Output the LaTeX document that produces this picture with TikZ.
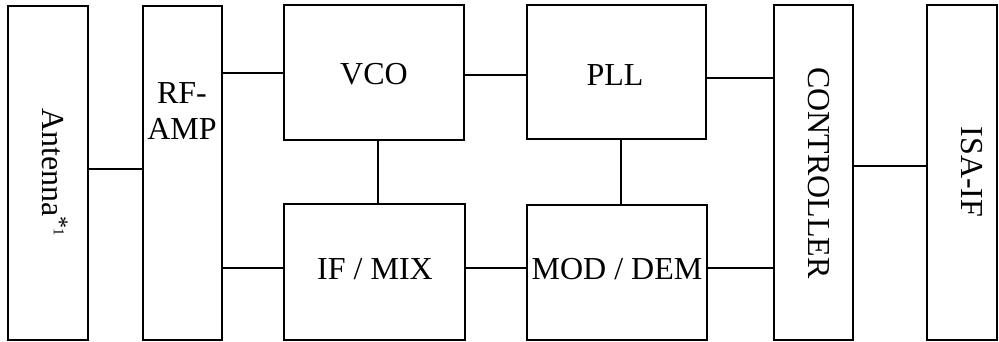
\documentclass[tikz,border=0pt]{standalone}
\usepackage{fontspec}
\setmainfont{Liberation Serif}
\begin{document}
\begin{tikzpicture}[x=1pt,y=-1pt,
  blk/.style={draw,line width=1.3pt,fill=white},
  lbl/.style={font=\fontsize{32}{36}\selectfont,inner sep=0pt},
  conn/.style={line width=1.3pt}]
\useasboundingbox (0,0) rectangle (999,342);
% boxes
\draw[blk] (8,6) rectangle (88,340);
\draw[blk] (143,6) rectangle (222,340);
\draw[blk] (284,5) rectangle (464,140);
\draw[blk] (284,204) rectangle (465,340);
\draw[blk] (527,5) rectangle (706,139);
\draw[blk] (527,205) rectangle (707,340);
\draw[blk] (774,5) rectangle (853,340);
\draw[blk] (927,5) rectangle (997,340);
% labels
\node[lbl,rotate=-90] (antenna) at (55,172) {Antenna\raisebox{9pt}{\fontsize{24}{24}\selectfont *}\raisebox{11pt}{\fontsize{15}{15}\selectfont 1}};
\node[lbl,align=center] (rfamp) at (182,111) {RF-\\AMP};
\node[lbl] (vco) at (374,74) {VCO};
\node[lbl] (pll) at (615,75) {PLL};
\node[lbl] (ifmix) at (375,269) {IF / MIX};
\node[lbl] (moddem) at (617,269) {MOD / DEM};
\node[lbl,rotate=-90] (ctrl) at (819,173) {CONTROLLER};
\node[lbl,rotate=-90] (isa) at (972,172) {ISA-IF};
% connectors
\coordinate (a1) at (88,169); \coordinate (a2) at (143,169);
\draw[conn] (a1) -- (a2);
\coordinate (r1) at (222,73); \coordinate (r2) at (284,73);
\draw[conn] (r1) -- (r2);
\coordinate (r3) at (222,268); \coordinate (r4) at (284,268);
\draw[conn] (r3) -- (r4);
\coordinate (v1) at (378,140); \coordinate (v2) at (378,204);
\draw[conn] (v1) -- (v2);
\coordinate (v3) at (464,75); \coordinate (v4) at (527,75);
\draw[conn] (v3) -- (v4);
\coordinate (i1) at (465,268); \coordinate (i2) at (527,268);
\draw[conn] (i1) -- (i2);
\coordinate (p1) at (621,139); \coordinate (p2) at (621,205);
\draw[conn] (p1) -- (p2);
\coordinate (p3) at (706,78); \coordinate (p4) at (774,78);
\draw[conn] (p3) -- (p4);
\coordinate (m1) at (707,268); \coordinate (m2) at (774,268);
\draw[conn] (m1) -- (m2);
\coordinate (c1) at (853,166); \coordinate (c2) at (927,166);
\draw[conn] (c1) -- (c2);
\end{tikzpicture}
\end{document}
